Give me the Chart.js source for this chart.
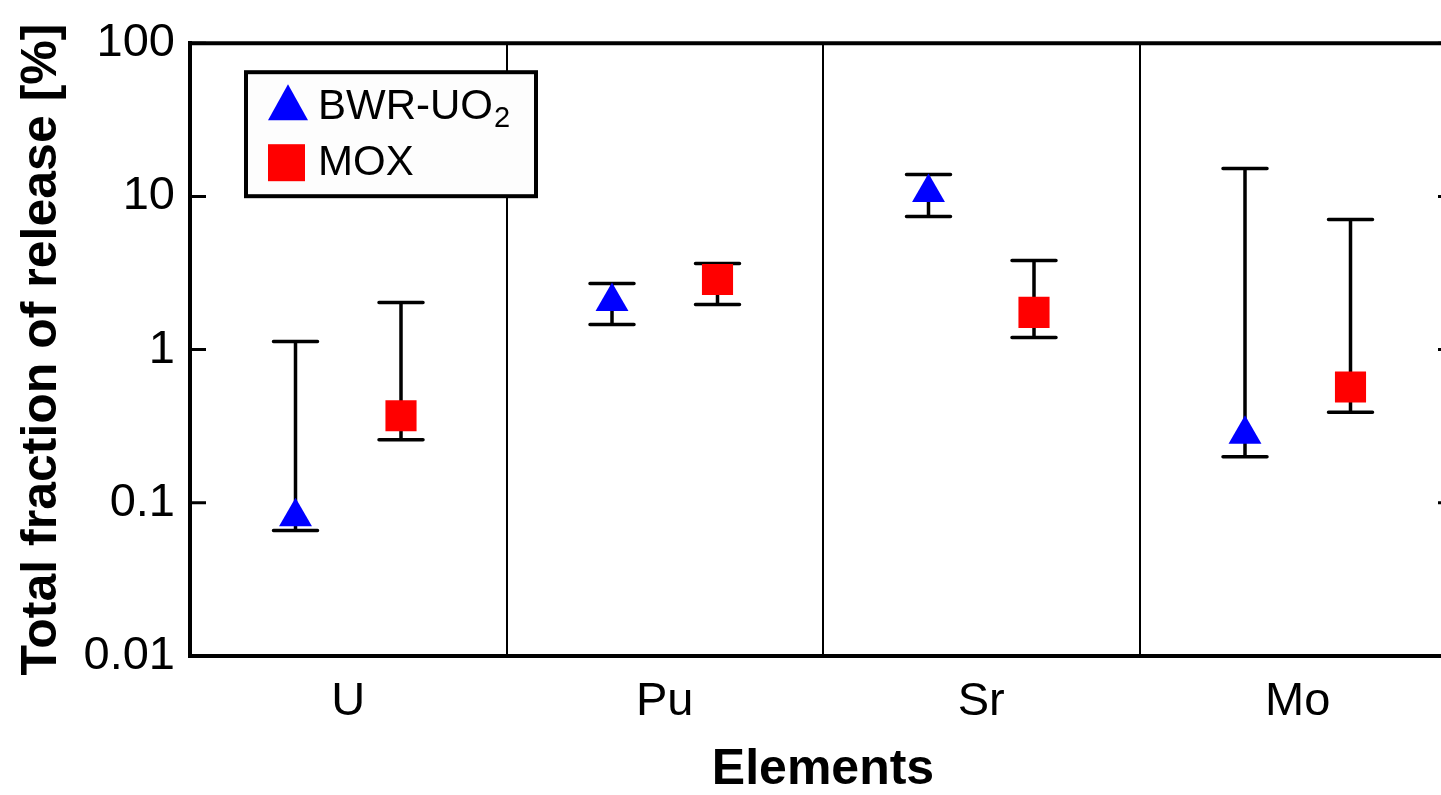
<!DOCTYPE html>
<html>
<head>
<meta charset="utf-8">
<title>Total fraction of release</title>
<style>
  html, body { margin: 0; padding: 0; background: #fff; overflow: hidden; }
  .chart { position: relative; width: 1478px; height: 795px; }
</style>
</head>
<body>
<div class="chart"><canvas id="release"></canvas></div>
<script src="https://cdn.jsdelivr.net/npm/chart.js"></script>
<script>
// values
const categories = ['U', 'Pu', 'Sr', 'Mo'];
const yTicks = [0.01, 0.1, 1, 10, 100];

const bwrValues = [0.081, 2.06, 10.6, 0.28];
const bwrLow    = [0.066, 1.46, 7.4, 0.2];
const bwrHigh   = [1.13, 2.7, 13.9, 15.2];

const moxValues = [0.37, 2.87, 1.75, 0.57];
const moxLow    = [0.258, 1.97, 1.2, 0.39];
const moxHigh   = [2.03, 3.65, 3.81, 7.07];

const FONT = "'Liberation Sans', Arial, sans-serif";

function points(values, low, high, shift) {
    return values.map((v, i) => ({ x: i + shift, y: v, lo: low[i], hi: high[i] }));
}

// error bars, drawn under the markers
const errorBars = {
    id: 'errorBars',
    beforeDatasetsDraw(chart) {
        const ctx = chart.ctx;
        const y = chart.scales.y;
        ctx.save();
        ctx.strokeStyle = '#000';
        ctx.lineWidth = 3.5;
        ctx.lineCap = 'round';
        chart.data.datasets.forEach((ds, d) => {
            chart.getDatasetMeta(d).data.forEach((pt, i) => {
                const yl = y.getPixelForValue(ds.data[i].lo);
                const yh = y.getPixelForValue(ds.data[i].hi);
                ctx.beginPath();
                ctx.moveTo(pt.x, yl); ctx.lineTo(pt.x, yh);
                ctx.moveTo(pt.x - 22, yl); ctx.lineTo(pt.x + 22, yl);
                ctx.moveTo(pt.x - 22, yh); ctx.lineTo(pt.x + 22, yh);
                ctx.stroke();
            });
        });
        ctx.restore();
    }
};

// top edge and inward ticks on both sides
const frame = {
    id: 'frame',
    afterDraw(chart) {
        const { ctx, chartArea: a } = chart;
        const y = chart.scales.y;
        ctx.save();
        ctx.strokeStyle = '#000';
        ctx.lineWidth = 4;
        ctx.beginPath();
        ctx.moveTo(a.left - 2, a.top);
        ctx.lineTo(a.right, a.top);
        ctx.stroke();
        ctx.lineWidth = 3;
        ctx.beginPath();
        yTicks.forEach(v => {
            const py = y.getPixelForValue(v);
            ctx.moveTo(a.left, py); ctx.lineTo(a.left + 16, py);
            ctx.moveTo(a.right - 18, py); ctx.lineTo(a.right, py);
        });
        ctx.stroke();
        ctx.restore();
    }
};

// boxed legend inside the plot
const boxLegend = {
    id: 'boxLegend',
    afterDraw(chart) {
        const { ctx, chartArea: a } = chart;
        const ds = chart.data.datasets;
        const x0 = a.left + 56, y0 = a.top + 29;
        ctx.save();
        ctx.fillStyle = '#fdfdfd';
        ctx.fillRect(x0, y0, 290, 124);
        ctx.lineWidth = 4;
        ctx.strokeStyle = '#000';
        ctx.strokeRect(x0, y0, 290, 124);

        ctx.fillStyle = ds[0].backgroundColor;
        ctx.beginPath();
        ctx.moveTo(x0 + 42, y0 + 12);
        ctx.lineTo(x0 + 62, y0 + 48);
        ctx.lineTo(x0 + 22, y0 + 48);
        ctx.closePath();
        ctx.fill();
        ctx.fillStyle = ds[1].backgroundColor;
        ctx.fillRect(x0 + 22, y0 + 72, 37, 37);

        ctx.fillStyle = '#000';
        ctx.textBaseline = 'middle';
        ctx.font = '42px ' + FONT;
        ctx.fillText('BWR-UO', x0 + 72, y0 + 35);
        const w = ctx.measureText('BWR-UO').width;
        ctx.font = '29px ' + FONT;
        ctx.fillText('2', x0 + 73 + w, y0 + 47);
        ctx.font = '42px ' + FONT;
        ctx.fillText(ds[1].label, x0 + 72, y0 + 91);
        ctx.restore();
    }
};

const xTicks = categories.flatMap((c, i) => [i, i + 0.5]).concat(categories.length);

let ctx = document.querySelector('#release').getContext('2d');
let chart = new Chart(ctx, {
    type: 'scatter',
    data: {
        datasets: [{
            label: 'BWR-UO₂',
            data: points(bwrValues, bwrLow, bwrHigh, 1 / 3),
            pointStyle: 'triangle',
            pointRadius: 19,
            pointHoverRadius: 19,
            pointBorderWidth: 0,
            backgroundColor: '#0000ff',
            borderColor: '#0000ff'
        }, {
            label: 'MOX',
            data: points(moxValues, moxLow, moxHigh, 2 / 3),
            pointStyle: 'rect',
            pointRadius: 22,
            pointHoverRadius: 22,
            pointBorderWidth: 0,
            backgroundColor: '#ff0000',
            borderColor: '#ff0000'
        }]
    },
    options: {
        responsive: true,
        maintainAspectRatio: false,
        animation: false,
        layout: { padding: { top: 43, right: 14, left: 0, bottom: 0 } },
        plugins: {
            legend: { display: false },
            tooltip: { enabled: false }
        },
        scales: {
            x: {
                type: 'linear',
                min: 0,
                max: categories.length,
                afterBuildTicks: s => { s.ticks = xTicks.map(v => ({ value: v })); },
                afterFit: s => { s.height = 139; },
                grid: {
                    drawTicks: false,
                    lineWidth: 2,
                    color: c => (c.tick && Number.isInteger(c.tick.value) && c.tick.value > 0 && c.tick.value < categories.length) ? '#000' : 'rgba(0,0,0,0)'
                },
                border: { color: '#000', width: 4 },
                ticks: {
                    autoSkip: false,
                    maxRotation: 0,
                    padding: 18,
                    color: '#000',
                    font: { family: FONT, size: 47 },
                    callback: v => Number.isInteger(v) ? '' : categories[Math.floor(v)]
                },
                title: {
                    display: true,
                    text: 'Elements',
                    color: '#000',
                    padding: 0,
                    font: { family: FONT, size: 50, weight: 'bold', lineHeight: 1 }
                }
            },
            y: {
                type: 'logarithmic',
                min: 0.01,
                max: 100,
                afterBuildTicks: s => { s.ticks = yTicks.map(v => ({ value: v })); },
                afterFit: s => { s.width = 190; },
                grid: { display: false, drawTicks: false },
                border: { color: '#000', width: 4 },
                ticks: {
                    padding: 15,
                    color: '#000',
                    font: { family: FONT, size: 47 },
                    callback: v => String(v)
                },
                title: {
                    display: true,
                    text: 'Total fraction of release [%]',
                    color: '#000',
                    padding: { top: 12, bottom: 0 },
                    font: { family: FONT, size: 50, weight: 'bold' }
                }
            }
        }
    },
    plugins: [errorBars, frame, boxLegend]
});
</script>
</body>
</html>
